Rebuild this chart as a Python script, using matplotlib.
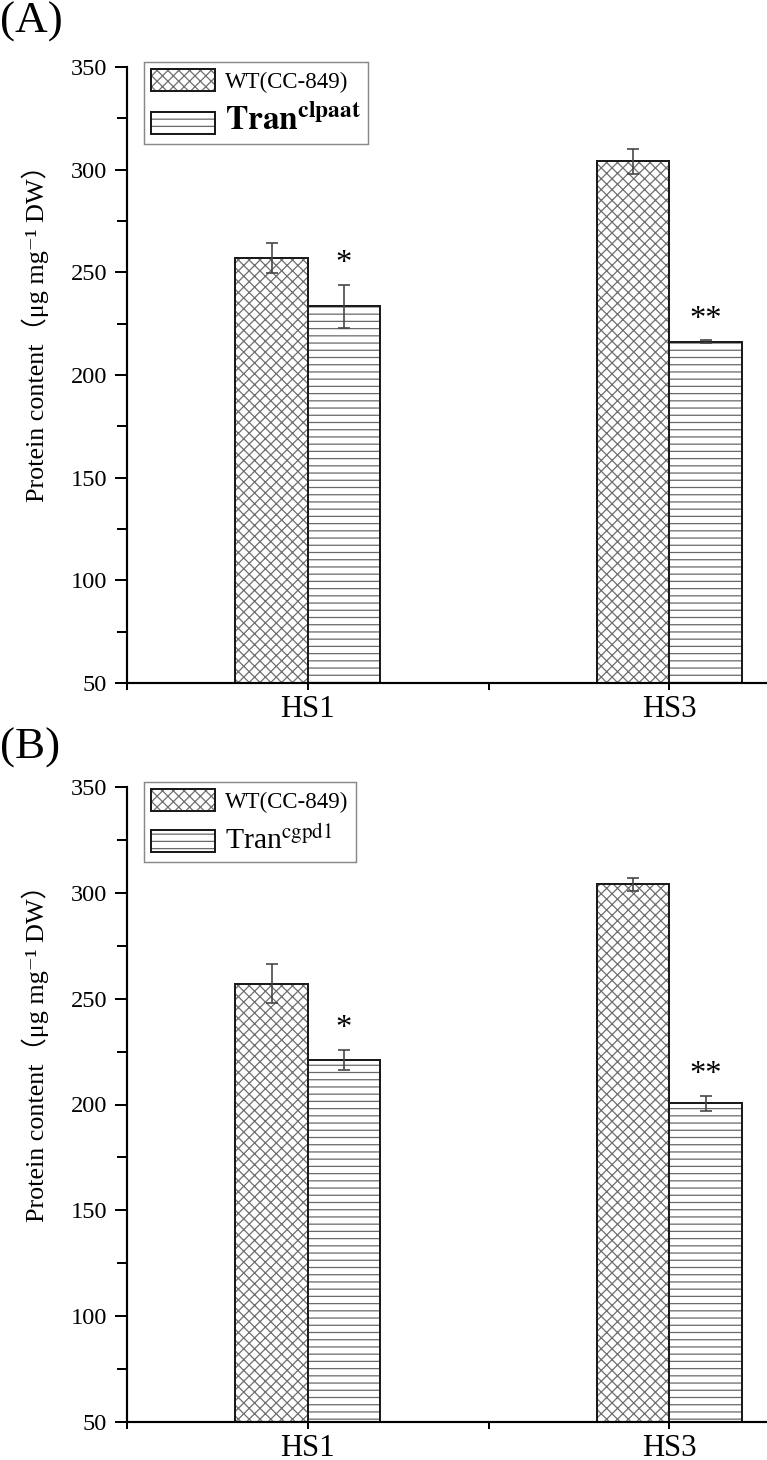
import numpy as np
import matplotlib
matplotlib.use("Agg")
import matplotlib.pyplot as plt
from matplotlib.ticker import MultipleLocator

plt.rcParams['font.family'] = ['Liberation Serif', 'Noto Sans CJK SC', 'DejaVu Serif']
plt.rcParams['mathtext.fontset'] = 'stix'
plt.rcParams['hatch.linewidth'] = 0.7

groups = ["HS1", "HS3"]

# panel A
a_wt = [257, 304]
a_wt_err = [7.3, 6.0]
a_tran = [233.5, 216.2]
a_tran_err = [10.5, 0.8]
a_sig = ["*", "**"]

# panel B
b_wt = [257, 304]
b_wt_err = [9.2, 3.2]
b_tran = [221, 200.5]
b_tran_err = [4.7, 3.4]
b_sig = ["*", "**"]

DPI = 130
W, H = 767, 1460


def draw_panel(ax, wt, wt_err, tran, tran_err, sig, tran_label, tran_size, label_y):
    x = np.arange(1, len(groups) + 1)
    w = 0.2
    h_wt = ax.bar(x - w / 2, wt, w, color='white', edgecolor='#707070', hatch='xxxx', linewidth=0)
    o_wt = ax.bar(x - w / 2, wt, w, fill=False, edgecolor='#1a1a1a', linewidth=1.1)
    h_tr = ax.bar(x + w / 2, tran, w, color='white', edgecolor='#6a6a6a', hatch='---', linewidth=0)
    o_tr = ax.bar(x + w / 2, tran, w, fill=False, edgecolor='#1a1a1a', linewidth=1.1)

    ax.errorbar(x - w / 2, wt, yerr=wt_err, fmt='none', ecolor='#444444',
                elinewidth=0.9, capsize=3.3, capthick=0.9)
    ax.errorbar(x + w / 2, tran, yerr=tran_err, fmt='none', ecolor='#444444',
                elinewidth=0.9, capsize=3.3, capthick=0.9)

    for xi, v, e, s in zip(x + w / 2, tran, tran_err, sig):
        ax.text(xi, v + e + 10, s, ha='center', va='center', fontsize=18)

    ax.set_xlim(0.5, 2.27)
    ax.set_ylim(50, 350)
    ax.set_xticks([0.5, 1, 1.5, 2])
    ax.set_xticklabels(["", groups[0], "", groups[1]], fontsize=17)
    ax.yaxis.set_major_locator(MultipleLocator(50))
    ax.yaxis.set_minor_locator(MultipleLocator(25))
    ax.tick_params(axis='y', which='major', direction='out', length=6.5, width=1.1,
                   pad=4.5, labelsize=13.5)
    ax.tick_params(axis='y', which='minor', direction='out', length=5.5, width=1.1)
    ax.tick_params(axis='x', direction='out', length=4, width=1.1, pad=2.5)
    for side in ['top', 'right']:
        ax.spines[side].set_visible(False)
    for side in ['left', 'bottom']:
        ax.spines[side].set_linewidth(1.2)

    ax.set_ylabel('Protein content（μg mg⁻¹ DW）', fontsize=14.5)
    ax.yaxis.set_label_coords(-0.122, label_y)

    pos = ax.get_position()
    ax_h = pos.height * H
    leg = ax.legend([(h_wt[0], o_wt[0]), (h_tr[0], o_tr[0])], ['WT(CC-849)', tran_label],
                    loc='upper left', bbox_to_anchor=(17 / 640, 1 + 5 / ax_h),
                    borderaxespad=0, fancybox=False, edgecolor='#888888', framealpha=1,
                    handlelength=2.8, handleheight=1.1, handletextpad=0.45,
                    labelspacing=0.55, borderpad=0.3, fontsize=12.7)
    leg.get_frame().set_linewidth(0.8)
    leg.get_texts()[1].set_fontsize(tran_size)


fig = plt.figure(figsize=(W / DPI, H / DPI), dpi=DPI)
ax_a = fig.add_axes([127 / W, 1 - 683 / H, 640 / W, 616 / H])
ax_b = fig.add_axes([127 / W, 1 - 1422 / H, 640 / W, 635 / H])

draw_panel(ax_a, a_wt, a_wt_err, a_tran, a_tran_err, a_sig,
           r'$\mathbf{Tran}^{\mathbf{clpaat}}$', 18.5, 0.577)
draw_panel(ax_b, b_wt, b_wt_err, b_tran, b_tran_err, b_sig,
           r'Tran$^{\mathrm{cgpd1}}$', 16.5, 0.59)

fig.text(0.0, 1 - 22 / H, '(A)', fontsize=25, ha='left', va='center')
fig.text(0.0, 1 - 748 / H, '(B)', fontsize=25, ha='left', va='center')

fig.savefig('out.png', dpi=DPI)
